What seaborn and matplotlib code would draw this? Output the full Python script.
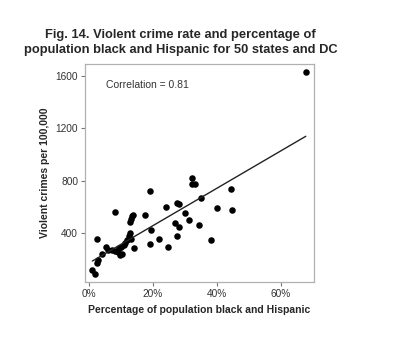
import matplotlib
matplotlib.use("Agg")
import matplotlib.pyplot as plt
import seaborn as sns
import pandas as pd
from matplotlib.ticker import FuncFormatter

# Percentage of population black and Hispanic, by state (incl. DC)
pct_black_hispanic = [
    1.0, 1.8, 2.4, 2.7, 2.6, 3.9, 5.2, 6.0, 7.1, 8.1,
    8.1, 9.0, 9.5, 10.0, 10.3, 10.8, 11.3, 11.9, 12.6, 12.8,
    13.2, 12.7, 13.0, 13.4, 13.7, 14.0, 17.5, 19.0, 19.5, 19.0,
    22.0, 24.0, 24.7, 26.8, 27.5, 28.0, 27.5, 28.0, 30.0, 31.3,
    32.3, 32.3, 33.0, 34.4, 35.1, 38.0, 40.1, 44.5, 44.6, 67.8,
    9.2,
]
# Violent crimes per 100,000 residents
violent_rate = [
    115, 84, 166, 190, 350, 237, 289, 268, 270, 557,
    263, 250, 230, 295, 240, 305, 324, 345, 375, 400,
    350, 480, 505, 525, 540, 286, 536, 717, 421, 311,
    352, 597, 291, 472, 630, 620, 375, 446, 549, 495,
    822, 770, 770, 457, 664, 342, 592, 737, 577, 1629,
    285,
]
correlation_label = "Correlation = 0.81"
x_ticks = [0, 20, 40, 60]
y_ticks = [400, 800, 1200, 1600]

df = pd.DataFrame({"pct": pct_black_hispanic, "rate": violent_rate})

sns.set_style("white")
plt.rcParams["font.family"] = ["Liberation Sans", "DejaVu Sans"]

fig = plt.figure(figsize=(4.04, 3.44), dpi=100)
ax = fig.add_axes([0.2104, 0.180, 0.567, 0.634])

sns.regplot(
    data=df, x="pct", y="rate", ax=ax, ci=None,
    scatter_kws=dict(s=22, color="black", linewidths=0, alpha=1),
    line_kws=dict(color="#222222", lw=1.0),
)

ax.set_xlim(-1.3, 70.4)
ax.set_ylim(23, 1692)
ax.set_xticks(x_ticks)
ax.set_yticks(y_ticks)
ax.xaxis.set_major_formatter(FuncFormatter(lambda v, p: f"{v:.0f}%"))

for s in ax.spines.values():
    s.set_color("#b0b0b0")
    s.set_linewidth(0.9)

ax.tick_params(axis="both", which="major", direction="out", length=3,
               width=0.8, color="#777777", labelsize=7.3,
               labelcolor="#333333", pad=2, bottom=True, left=True)

ax.set_xlabel("Percentage of population black and Hispanic",
              fontsize=7.5, fontweight="bold", labelpad=4)
ax.set_ylabel("Violent crimes per 100,000",
              fontsize=7.5, fontweight="bold", labelpad=4)

ax.text(0.09, 0.905, correlation_label, transform=ax.transAxes,
        fontsize=7.5, color="#333333", va="center", ha="left")

fig.text(0.447, 0.877,
         "Fig. 14. Violent crime rate and percentage of\npopulation black and Hispanic for 50 states and DC",
         ha="center", va="center", fontsize=9.3, fontweight="bold",
         linespacing=1.32)

fig.savefig("out.png", dpi=100, facecolor="white")
